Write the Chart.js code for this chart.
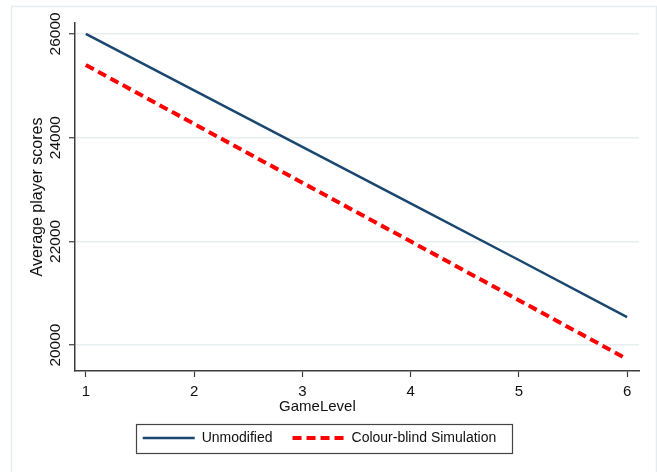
<!DOCTYPE html>
<html>
<head>
<meta charset="utf-8">
<script src="https://cdn.jsdelivr.net/npm/chart.js@4"></script>
<style>
html, body {margin:0; padding:0; background:#fff;}
#holder {width:657px; height:472px;}
</style>
</head>
<body>
<div id="holder"><canvas id="canvas_0"></canvas></div>
<script>
const gameLevels = [1, 2, 3, 4, 5, 6];
const unmodified = [26000, 24910, 23820, 22730, 21640, 20540];
const colourBlind = [25400, 24265, 23130, 22000, 20865, 19730];
const yTicks = [20000, 22000, 24000, 26000];
const seriesNames = ['Unmodified', 'Colour-blind Simulation'];

const colors = {unmodified:'#1a476f', colourBlind:'#ff0000', axis:'#3c3c3c', grid:'#e6eef0', frame:'#e4ecee', text:'#111111'};
const font = "'Liberation Sans', Arial, sans-serif";

function points(ys){
	return gameLevels.map((x, i) => ({x:x, y:ys[i]}));
}

// light outer frame round the whole graph
const framePlugin = {
	id:'frame',
	beforeDraw(chart){
		const ctx = chart.ctx;
		ctx.save();
		ctx.fillStyle = '#fff';
		ctx.fillRect(0, 0, chart.width, chart.height);
		ctx.strokeStyle = colors.frame;
		ctx.lineWidth = 1.5;
		ctx.strokeRect(11.5, 6.5, chart.width - 12, chart.height + 10);
		ctx.restore();
	}
};

// box round the legend items
const legendBorder = {
	id:'legendBorder',
	afterDraw(chart){
		const boxes = chart.legend.legendHitBoxes;
		if(!boxes || !boxes.length) return;
		const first = boxes[0], last = boxes[boxes.length - 1];
		const l = first.left - 7, r = last.left + last.width + 15;
		const t = first.top - 7, b = first.top + first.height + 8;
		const ctx = chart.ctx;
		ctx.save();
		ctx.strokeStyle = '#444';
		ctx.lineWidth = 1.2;
		ctx.strokeRect(Math.round(l) + 0.5, Math.round(t) + 0.5, Math.round(r - l), Math.round(b - t));
		ctx.restore();
	}
};

const data = {
	datasets: [
		{label:seriesNames[0], data:points(unmodified), borderColor:colors.unmodified, backgroundColor:colors.unmodified, borderWidth:2.5, pointRadius:0},
		{label:seriesNames[1], data:points(colourBlind), borderColor:colors.colourBlind, backgroundColor:colors.colourBlind, borderWidth:4, borderDash:[9, 5], pointRadius:0}
	]
};

new Chart(document.getElementById('canvas_0'), {
	type:'line',
	data:data,
	plugins:[framePlugin, legendBorder],
	options:{
		responsive:true,
		maintainAspectRatio:false,
		animation:false,
		layout:{padding:{top:23, right:18, left:0, bottom:17}},
		plugins:{
			tooltip:{enabled:false},
			legend:{
				display:true,
				position:'bottom',
				labels:{
					usePointStyle:true,
					pointStyle:'line',
					pointStyleWidth:52,
					padding:20,
					color:colors.text,
					font:{family:font, size:14},
					generateLabels:(chart) => {
						const items = Chart.defaults.plugins.legend.labels.generateLabels(chart);
						items.forEach(it => {
							const ds = chart.data.datasets[it.datasetIndex];
							it.lineDash = ds.borderDash || [];
							it.lineWidth = ds.borderWidth;
							it.strokeStyle = ds.borderColor;
						});
						return items;
					}
				}
			}
		},
		scales:{
			x:{
				type:'linear', min:0.9, max:6.11,
				afterBuildTicks:(s) => { s.ticks = gameLevels.map(v => ({value:v})); },
				afterFit:(s) => { s.height = 40; },
				ticks:{color:colors.text, padding:6, font:{family:font, size:15}, callback:(v) => String(v)},
				grid:{drawOnChartArea:false, drawTicks:true, tickLength:6, tickColor:colors.axis, tickWidth:1.2},
				border:{color:colors.axis, width:1.5},
				title:{display:true, text:'GameLevel                   ', color:colors.text, font:{family:font, size:15, lineHeight:1}, padding:{top:0, bottom:-3}}
			},
			y:{
				type:'linear', min:19500, max:26210,
				afterBuildTicks:(s) => { s.ticks = yTicks.map(v => ({value:v})); },
				afterFit:(s) => { s.width = 75; },
				ticks:{color:colors.text, minRotation:90, maxRotation:90, crossAlign:'center', padding:-8, font:{family:font, size:15.5}, callback:(v) => String(v)},
				grid:{color:colors.grid, lineWidth:1.5, tickLength:6, tickColor:colors.axis, tickWidth:1.2},
				border:{color:colors.axis, width:1.5},
				title:{display:true, text:'Average player scores', color:colors.text, font:{family:font, size:16, lineHeight:1}, padding:{top:30, bottom:0}}
			}
		}
	}
});
</script>
</body>
</html>
